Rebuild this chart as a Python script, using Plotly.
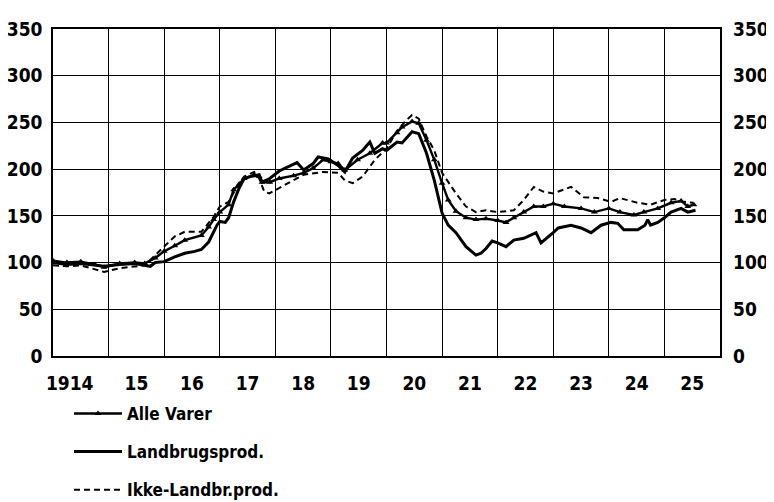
import plotly.graph_objects as go

# ---- data (year as decimal, index values) ----
alle_x = [1914.0, 1914.25, 1914.5, 1914.75, 1914.92, 1915.2, 1915.47, 1915.65, 1915.84, 1916.0,
          1916.19, 1916.37, 1916.67, 1916.8, 1916.89, 1917.0, 1917.16, 1917.25, 1917.35, 1917.44,
          1917.62, 1917.71, 1917.76, 1917.9, 1918.07, 1918.33, 1918.51, 1918.68, 1918.86, 1919.0,
          1919.13, 1919.25, 1919.48, 1919.7, 1919.93, 1920.0, 1920.19, 1920.28, 1920.46, 1920.58,
          1920.72, 1920.86, 1921.0, 1921.11, 1921.25, 1921.43, 1921.61, 1921.79, 1922.0, 1922.15,
          1922.29, 1922.47, 1922.65, 1922.82, 1923.0, 1923.2, 1923.5, 1923.74, 1924.0, 1924.2,
          1924.45, 1924.63, 1924.88, 1925.12, 1925.3, 1925.42, 1925.53]
alle_y = [102, 100, 101, 98, 95, 99, 100, 99, 105, 112,
          118, 124, 129, 138, 146, 154, 162, 178, 184, 190,
          194, 192, 186, 186, 190, 193, 196, 201, 210, 208,
          206, 199, 210, 217, 228, 228, 239, 245, 251, 249,
          231, 210, 185, 167, 155, 148, 146, 147, 145, 143,
          148, 154, 160, 160, 163, 160, 158, 154, 158, 154,
          151, 154, 158, 164, 166, 160, 162]

land_x = [1914.0, 1914.25, 1914.5, 1914.75, 1914.92, 1915.2, 1915.47, 1915.65, 1915.75, 1915.84,
          1916.0, 1916.19, 1916.37, 1916.55, 1916.67, 1916.8, 1916.89, 1916.95, 1917.0, 1917.1,
          1917.16, 1917.25, 1917.35, 1917.44, 1917.55, 1917.71, 1917.76, 1917.9, 1918.07, 1918.2,
          1918.33, 1918.39, 1918.51, 1918.68, 1918.77, 1918.95, 1919.13, 1919.25, 1919.39, 1919.57,
          1919.7, 1919.79, 1919.93, 1920.0, 1920.19, 1920.28, 1920.46, 1920.58, 1920.72, 1920.86,
          1921.0, 1921.11, 1921.25, 1921.43, 1921.61, 1921.7, 1921.79, 1921.9, 1922.0, 1922.15,
          1922.29, 1922.47, 1922.69, 1922.78, 1923.0, 1923.09, 1923.32, 1923.5, 1923.68, 1923.86,
          1924.04, 1924.16, 1924.27, 1924.52, 1924.65, 1924.7, 1924.75, 1924.88, 1925.0, 1925.12,
          1925.3, 1925.42, 1925.56]
land_y = [100, 98, 99, 97, 96, 98, 99, 97, 96, 100,
          101, 106, 110, 112, 114, 122, 133, 140, 144, 143,
          148, 165, 180, 190, 192, 194, 186, 190, 198, 202,
          206, 207, 199, 206, 213, 211, 204, 197, 212, 220,
          229, 217, 222, 220, 229, 228, 240, 238, 217, 188,
          153, 140, 132, 117, 108, 110, 115, 123, 121, 117,
          124, 126, 132, 121, 132, 137, 140, 137, 132, 140,
          143, 142, 135, 135, 140, 146, 140, 143, 148, 154,
          158, 154, 156]

ikke_x = [1914.0, 1914.25, 1914.5, 1914.75, 1914.92, 1915.2, 1915.47, 1915.65, 1915.84, 1916.0,
          1916.19, 1916.37, 1916.67, 1916.89, 1917.0, 1917.16, 1917.3, 1917.44, 1917.62, 1917.71,
          1917.8, 1917.89, 1918.16, 1918.51, 1918.86, 1919.13, 1919.25, 1919.39, 1919.57, 1919.79,
          1920.0, 1920.19, 1920.35, 1920.46, 1920.58, 1920.72, 1920.86, 1921.0, 1921.25, 1921.43,
          1921.61, 1921.79, 1922.0, 1922.29, 1922.47, 1922.65, 1922.82, 1923.0, 1923.32, 1923.55,
          1923.8, 1924.04, 1924.2, 1924.52, 1924.75, 1925.0, 1925.18, 1925.35, 1925.52]
ikke_y = [97, 96, 97, 93, 90, 94, 96, 97, 108, 117,
          128, 133, 133, 149, 160, 165, 180, 192, 197, 190,
          176, 174, 183, 194, 197, 196, 188, 185, 192, 210,
          222, 241, 252, 258, 254, 235, 220, 196, 174, 160,
          154, 156, 154, 156, 167, 181, 176, 174, 181, 170,
          169, 165, 169, 164, 162, 167, 168, 165, 164]

grid_years = list(range(1914, 1927))
label_pos = [1914.3, 1915.5, 1916.5, 1917.5, 1918.5, 1919.5, 1920.5, 1921.5,
             1922.5, 1923.5, 1924.5, 1925.5]
label_text = ["1914", "15", "16", "17", "18", "19", "20", "21", "22", "23", "24", "25"]
y_ticks = [0, 50, 100, 150, 200, 250, 300, 350]

FONT = "DejaVu Sans Condensed, Liberation Sans Narrow, sans-serif"

fig = go.Figure()
fig.add_trace(go.Scatter(x=alle_x, y=alle_y, name="Alle Varer", mode="lines+markers",
                         line=dict(color="black", width=2.4),
                         marker=dict(symbol="triangle-up", size=6, color="black"),
                         legendgroup="a"))
fig.add_trace(go.Scatter(x=land_x, y=land_y, name="Landbrugsprod.", mode="lines",
                         line=dict(color="black", width=3), legendgroup="b"))
fig.add_trace(go.Scatter(x=ikke_x, y=ikke_y, name="Ikke-Landbr.prod.", mode="lines",
                         line=dict(color="black", width=2, dash="6px,4px"), legendgroup="c"))
# invisible trace to carry the right axis
fig.add_trace(go.Scatter(x=[grid_years[0]], y=[y_ticks[0]], yaxis="y2", mode="markers",
                         marker=dict(opacity=0), showlegend=False, hoverinfo="skip"))

fig.update_layout(
    width=766, height=494,
    margin=dict(l=45, r=54, t=21, b=146, autoexpand=False),
    paper_bgcolor="white", plot_bgcolor="white",
    font=dict(family=FONT, color="black"),
    xaxis=dict(range=[1914, 1926], tickvals=label_pos, ticktext=label_text,
               showgrid=False, zeroline=False, ticks="", ticklabelstandoff=9,
               tickfont=dict(size=19, weight="bold"), automargin=False,
               showline=True, linecolor="black", linewidth=1.5, mirror=True,
               minor=dict(tickvals=grid_years, showgrid=True, gridcolor="black",
                          gridwidth=1.3, ticks="")),
    yaxis=dict(range=[0, 350], tickvals=y_ticks, showgrid=True, gridcolor="black",
               gridwidth=1.3, zeroline=False, ticks="", ticklabelstandoff=5,
               tickfont=dict(size=19, weight="bold"), automargin=False,
               showline=True, linecolor="black", linewidth=1.5, mirror=True),
    yaxis2=dict(range=[0, 350], tickvals=y_ticks, overlaying="y", side="right",
                showgrid=False, zeroline=False, ticks="", ticklabelstandoff=12,
                tickfont=dict(size=19, weight="bold"), showline=False, automargin=False),
    showlegend=True,
    legend=dict(x=0.024, y=-0.122, xanchor="left", yanchor="top",
                orientation="v", traceorder="grouped", tracegroupgap=13,
                itemwidth=48, font=dict(size=17, weight="bold"),
                bgcolor="rgba(0,0,0,0)"),
)

fig.write_html("out.html")
